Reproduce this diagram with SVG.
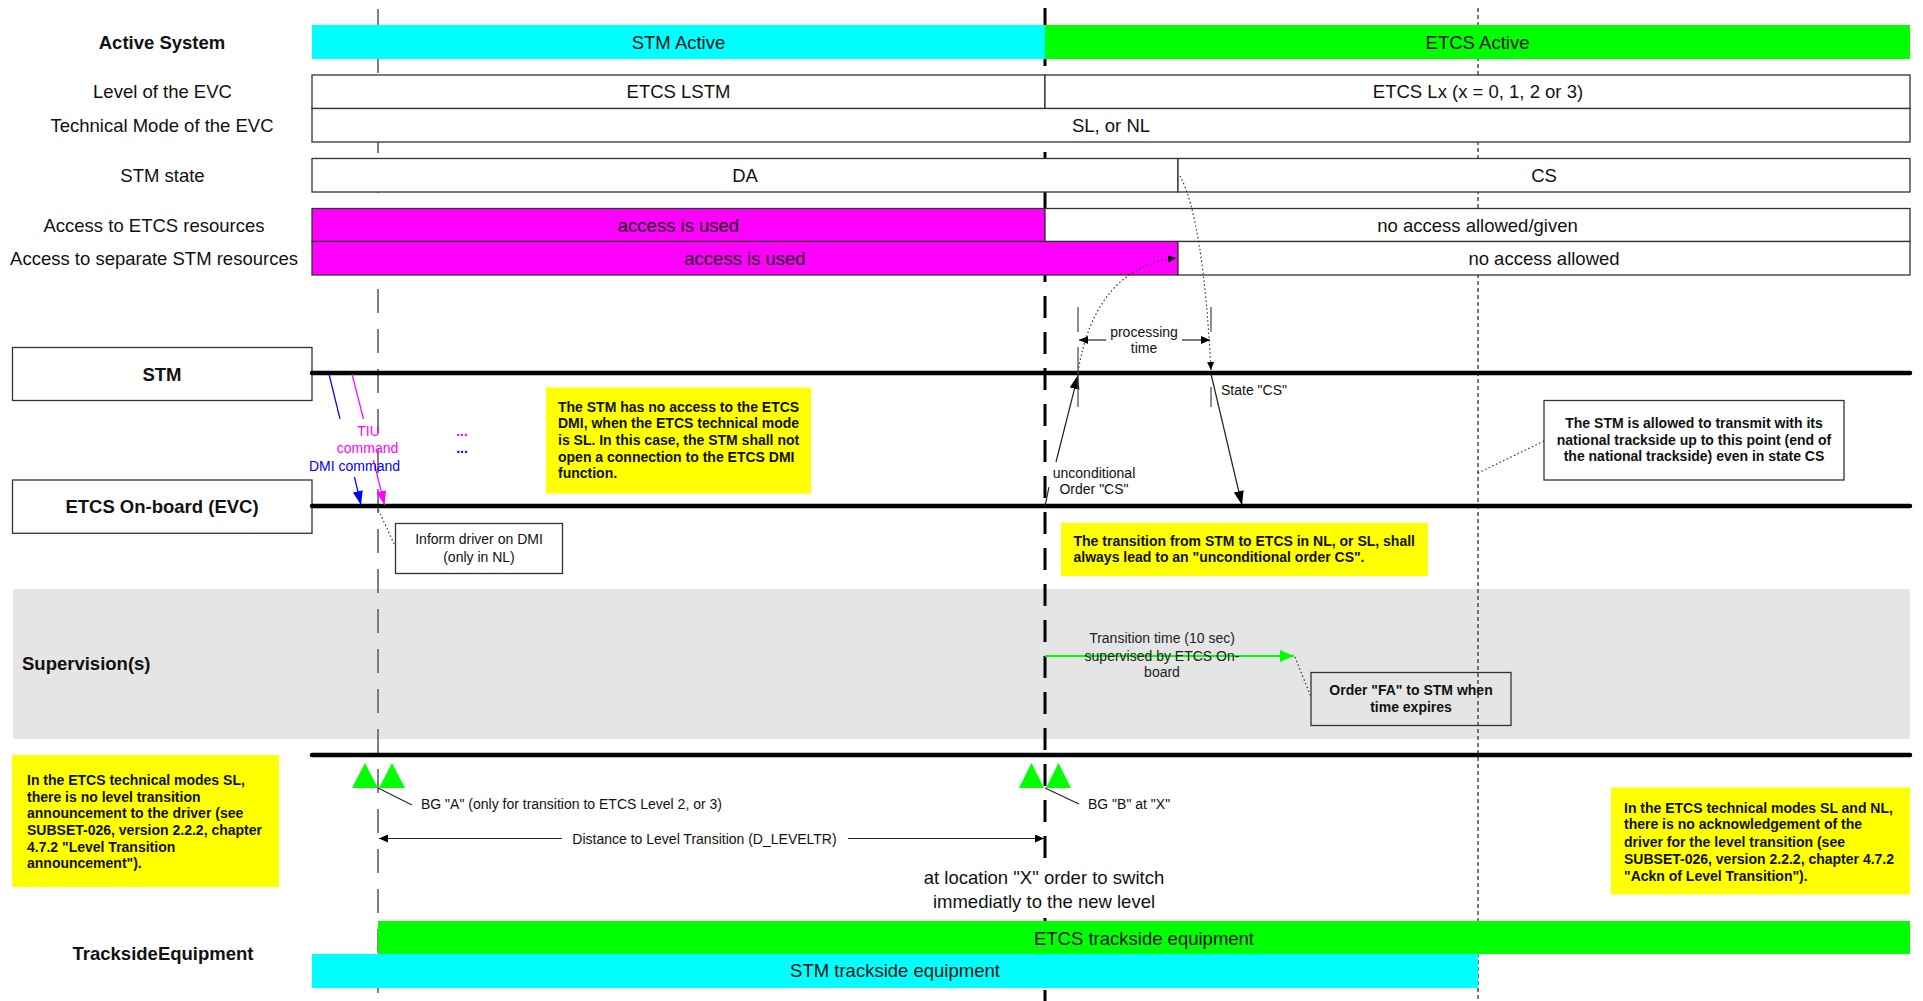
<svg xmlns="http://www.w3.org/2000/svg" width="1923" height="1001" viewBox="0 0 1923 1001">
  <style>
    text { font-family: "Liberation Sans", Arial, sans-serif; fill: #111; }
    .lbl { font-size: 18.5px; }
    .b { font-weight: bold; }
    .sm { font-size: 14px; }
    .note { font-size: 14px; font-weight: bold; }
    .row { fill: #fff; stroke: #333; stroke-width: 1.3; }
    .life { stroke: #000; stroke-width: 4.5; stroke-linecap: round; fill: none; }
    .yel { fill: #ffff00; }
    .box { fill: #fff; stroke: #333; stroke-width: 1.3; }
    .thin { stroke: #222; stroke-width: 1.2; fill: none; }
    .dot { stroke: #333; stroke-width: 1.2; stroke-dasharray: 1.5 2.5; fill: none; }
    .tick { stroke: #444; stroke-width: 1.2; }
    .switch { stroke: #000; stroke-width: 3; stroke-dasharray: 22 14; }
  </style>
  <defs>
    <marker id="ah" markerUnits="userSpaceOnUse" markerWidth="15" markerHeight="11" refX="14" refY="5" orient="auto">
      <path d="M0,0 L14,5 L0,10 z" fill="#000"/>
    </marker>
    <marker id="ahs" markerUnits="userSpaceOnUse" markerWidth="10" markerHeight="9" refX="9" refY="4" orient="auto">
      <path d="M0,0 L9,4 L0,8 z" fill="#000"/>
    </marker>
    <marker id="ahd" markerUnits="userSpaceOnUse" markerWidth="9" markerHeight="8" refX="8" refY="3.5" orient="auto">
      <path d="M0,0 L8,3.5 L0,7 z" fill="#000"/>
    </marker>
    <marker id="ahb" markerUnits="userSpaceOnUse" markerWidth="15" markerHeight="11" refX="14" refY="5" orient="auto">
      <path d="M0,0 L14,5 L0,10 z" fill="#0000ff"/>
    </marker>
    <marker id="ahm" markerUnits="userSpaceOnUse" markerWidth="15" markerHeight="11" refX="14" refY="5" orient="auto">
      <path d="M0,0 L14,5 L0,10 z" fill="#ff00ff"/>
    </marker>
    <marker id="ahg" markerUnits="userSpaceOnUse" markerWidth="15" markerHeight="13" refX="14" refY="6" orient="auto">
      <path d="M0,0 L14,6 L0,12 z" fill="#00ff00"/>
    </marker>
  </defs>

  <!-- supervision band -->
  <rect id="supervision-band" x="13" y="589" width="1897" height="150" fill="#e5e5e5"/>

  <!-- vertical time markers -->
  <g id="time-markers">
    <line x1="378" y1="9" x2="378" y2="1001" stroke="#555" stroke-width="1.5" stroke-dasharray="24 16"/>
    <line class="switch" x1="1045" y1="8" x2="1045" y2="866"/>
    <line class="switch" x1="1045" y1="918" x2="1045" y2="1001"/>
    <line x1="1478" y1="8" x2="1478" y2="1001" stroke="#222" stroke-width="1.2" stroke-dasharray="4 3"/>
  </g>

  <!-- active system bars -->
  <g id="active-system">
    <rect x="312" y="25" width="733" height="34" fill="#00ffff"/>
    <rect x="1045" y="25" width="865" height="34" fill="#00ff00"/>
    <text class="lbl" x="678.5" y="48.5" text-anchor="middle">STM Active</text>
    <text class="lbl" x="1477.5" y="48.5" text-anchor="middle">ETCS Active</text>
  </g>

  <!-- state rows -->
  <g id="rows">
    <rect class="row" x="312" y="75" width="733" height="33.5"/>
    <rect class="row" x="1045" y="75" width="865" height="33.5"/>
    <rect class="row" x="312" y="108.5" width="1598" height="33.5"/>
    <rect class="row" x="312" y="158.5" width="866" height="33.5"/>
    <rect class="row" x="1178" y="158.5" width="732" height="33.5"/>
    <rect x="312" y="208.5" width="733" height="33" fill="#ff00ff" stroke="#333" stroke-width="1.3"/>
    <rect class="row" x="1045" y="208.5" width="865" height="33"/>
    <rect x="312" y="241.5" width="866" height="33.5" fill="#ff00ff" stroke="#333" stroke-width="1.3"/>
    <rect class="row" x="1178" y="241.5" width="732" height="33.5"/>
    <text class="lbl" x="678.5" y="98" text-anchor="middle">ETCS LSTM</text>
    <text class="lbl" x="1478" y="98" text-anchor="middle">ETCS Lx (x = 0, 1, 2 or 3)</text>
    <text class="lbl" x="1111" y="131.5" text-anchor="middle">SL, or NL</text>
    <text class="lbl" x="745" y="181.5" text-anchor="middle">DA</text>
    <text class="lbl" x="1544" y="181.5" text-anchor="middle">CS</text>
    <text class="lbl" x="678.5" y="231.5" text-anchor="middle">access is used</text>
    <text class="lbl" x="1477.5" y="231.5" text-anchor="middle">no access allowed/given</text>
    <text class="lbl" x="745" y="264.5" text-anchor="middle">access is used</text>
    <text class="lbl" x="1544" y="264.5" text-anchor="middle">no access allowed</text>
  </g>

  <!-- row labels -->
  <g id="row-labels">
    <text class="lbl b" x="162" y="48.5" text-anchor="middle">Active System</text>
    <text class="lbl" x="162.5" y="98" text-anchor="middle">Level of the EVC</text>
    <text class="lbl" x="162" y="131.5" text-anchor="middle">Technical Mode of the EVC</text>
    <text class="lbl" x="162.5" y="181.5" text-anchor="middle">STM state</text>
    <text class="lbl" x="154" y="231.5" text-anchor="middle">Access to ETCS resources</text>
    <text class="lbl" x="154" y="264.5" text-anchor="middle">Access to separate STM resources</text>
    <text class="lbl b" x="22" y="670" >Supervision(s)</text>
    <text class="lbl b" x="163" y="960" text-anchor="middle">TracksideEquipment</text>
  </g>

  <!-- actors -->
  <g id="stm">
    <rect class="box" x="12.5" y="347.5" width="299.5" height="53"/>
    <text class="lbl b" x="162" y="380.5" text-anchor="middle">STM</text>
  </g>
  <g id="evc">
    <rect class="box" x="12.5" y="480" width="299.5" height="53.3"/>
    <text class="lbl b" x="162" y="513" text-anchor="middle">ETCS On-board (EVC)</text>
  </g>

  <!-- lifelines -->
  <g id="lifelines">
    <line class="life" x1="312" y1="373" x2="1910" y2="373"/>
    <line class="life" x1="312" y1="506" x2="1910" y2="506"/>
    <line class="life" x1="312" y1="755" x2="1910" y2="755"/>
  </g>

  <!-- notes -->
  <g id="note-stm-dmi">
    <rect class="yel" x="546" y="387.5" width="265" height="106"/>
    <text class="note" x="558" y="411.5">The STM has no access to the ETCS</text>
    <text class="note" x="558" y="428">DMI, when the ETCS technical mode</text>
    <text class="note" x="558" y="444.5">is SL. In this case, the STM shall not</text>
    <text class="note" x="558" y="461.5">open a connection to the ETCS DMI</text>
    <text class="note" x="558" y="478">function.</text>
  </g>
  <g id="note-transition">
    <rect class="yel" x="1061" y="523" width="367" height="53"/>
    <text class="note" x="1073.5" y="545.5">The transition from STM to ETCS in NL, or SL, shall</text>
    <text class="note" x="1073.5" y="561.5">always lead to an "unconditional order CS".</text>
  </g>
  <g id="note-announcement">
    <rect class="yel" x="12" y="755" width="267" height="132"/>
    <text class="note" x="27" y="785">In the ETCS technical modes SL,</text>
    <text class="note" x="27" y="801.5">there is no level transition</text>
    <text class="note" x="27" y="818">announcement to the driver (see</text>
    <text class="note" x="27" y="835">SUBSET-026, version 2.2.2, chapter</text>
    <text class="note" x="27" y="851.5">4.7.2 "Level Transition</text>
    <text class="note" x="27" y="868">announcement").</text>
  </g>
  <g id="note-ackn">
    <rect class="yel" x="1611" y="787.5" width="299" height="107"/>
    <text class="note" x="1624" y="812.5">In the ETCS technical modes SL and NL,</text>
    <text class="note" x="1624" y="829">there is no acknowledgement of the</text>
    <text class="note" x="1624" y="846.5">driver for the level transition (see</text>
    <text class="note" x="1624" y="864">SUBSET-026, version 2.2.2, chapter 4.7.2</text>
    <text class="note" x="1624" y="880.5">"Ackn of Level Transition").</text>
  </g>
  <g id="note-inform-driver">
    <rect class="box" x="395.5" y="523.5" width="167" height="50"/>
    <text class="sm" x="479" y="544" text-anchor="middle">Inform driver on DMI</text>
    <text class="sm" x="479" y="561.5" text-anchor="middle">(only in NL)</text>
  </g>
  <g id="note-national-trackside">
    <rect class="box" x="1544" y="400.5" width="300" height="79.5"/>
    <text class="note" x="1694" y="428" text-anchor="middle">The STM is allowed to transmit with its</text>
    <text class="note" x="1694" y="445" text-anchor="middle">national trackside up to this point (end of</text>
    <text class="note" x="1694" y="460.5" text-anchor="middle">the national trackside) even in state CS</text>
  </g>
  <g id="note-order-fa">
    <rect x="1311" y="672.5" width="200" height="53" fill="none" stroke="#333" stroke-width="1.3"/>
    <text class="note" x="1411" y="695" text-anchor="middle">Order "FA" to STM when</text>
    <text class="note" x="1411" y="712" text-anchor="middle">time expires</text>
  </g>

  <!-- balise groups -->
  <g id="balise-a">
    <path d="M352,788 L365,763 L378,788 z M379,788 L392,763 L405,788 z" fill="#00ff00"/>
    <text class="sm" x="421" y="809">BG "A" (only for transition to ETCS Level 2, or 3)</text>
  </g>
  <g id="balise-b">
    <path d="M1019,788 L1031.5,763 L1044,788 z M1046,788 L1058.5,763 L1071,788 z" fill="#00ff00"/>
    <text class="sm" x="1088" y="809">BG "B" at "X"</text>
  </g>

  <!-- trackside equipment -->
  <g id="trackside">
    <rect x="378" y="921" width="1532" height="33" fill="#00ff00"/>
    <rect x="312" y="954" width="1166" height="34" fill="#00ffff"/>
    <text class="lbl" x="1144" y="944.5" text-anchor="middle">ETCS trackside equipment</text>
    <text class="lbl" x="895" y="976.5" text-anchor="middle">STM trackside equipment</text>
  </g>

  <!-- messages and annotations -->
  <g id="connectors">
    <!-- DMI / TIU commands -->
    <line x1="329" y1="374" x2="340" y2="419" stroke="#0000ff" stroke-width="1.2"/>
    <line x1="354.5" y1="477" x2="361" y2="505" stroke="#0000ff" stroke-width="1.2" marker-end="url(#ahb)"/>
    <line x1="352" y1="374" x2="363.5" y2="419" stroke="#ff00ff" stroke-width="1.2"/>
    <line x1="373.5" y1="460" x2="384.5" y2="505" stroke="#ff00ff" stroke-width="1.2" marker-end="url(#ahm)"/>

    <!-- unconditional order CS -->
    <line class="thin" x1="1045" y1="506" x2="1049" y2="487"/>
    <line class="thin" x1="1056" y1="462" x2="1078" y2="375" marker-end="url(#ah)"/>
    <!-- state CS -->
    <line class="thin" x1="1211" y1="374" x2="1242" y2="505" marker-end="url(#ah)"/>

    <!-- processing time -->
    <line class="tick" x1="1078" y1="307" x2="1078" y2="332"/>
    <line class="tick" x1="1078" y1="347" x2="1078" y2="407"/>
    <line class="tick" x1="1211" y1="307" x2="1211" y2="332"/>
    <line class="tick" x1="1211" y1="387" x2="1211" y2="407"/>
    <line class="thin" x1="1106" y1="340" x2="1079" y2="340" marker-end="url(#ahs)"/>
    <line class="thin" x1="1182" y1="340" x2="1210" y2="340" marker-end="url(#ahs)"/>

    <!-- dotted causal links -->
    <path class="dot" d="M1078,372 Q1095,268 1176,258" marker-end="url(#ahd)"/>
    <path class="dot" d="M1180,176 Q1203,218 1211,370" marker-end="url(#ahd)"/>

    <!-- dotted callout leaders -->
    <line class="dot" x1="378.5" y1="510" x2="395" y2="546"/>
    <line class="dot" x1="1544" y1="441" x2="1478" y2="473"/>
    <line class="dot" x1="1295" y1="657" x2="1311" y2="697"/>

    <!-- balise leaders -->
    <line class="thin" x1="378" y1="788" x2="412" y2="805"/>
    <line class="thin" x1="1045" y1="788" x2="1079" y2="804"/>

    <!-- transition time supervision -->
    <line x1="1045" y1="656" x2="1294" y2="656" stroke="#00ff00" stroke-width="2" marker-end="url(#ahg)"/>

    <!-- distance to level transition -->
    <line class="thin" x1="562" y1="838.5" x2="379" y2="838.5" marker-end="url(#ahs)"/>
    <line class="thin" x1="848" y1="838.5" x2="1044" y2="838.5" marker-end="url(#ahs)"/>
  </g>

  <!-- message labels -->
  <g id="message-labels">
    <text class="sm" x="368.5" y="436" text-anchor="middle" style="fill:#ff00ff">TIU</text>
    <text class="sm" x="367.5" y="453" text-anchor="middle" style="fill:#ff00ff">command</text>
    <text class="sm" x="354.5" y="471" text-anchor="middle" style="fill:#0000ff">DMI command</text>
    <text class="sm b" x="462" y="436" text-anchor="middle" style="fill:#ff00ff">...</text>
    <text class="sm b" x="462" y="453" text-anchor="middle" style="fill:#0000ff">...</text>
    <text class="sm" x="1094" y="478" text-anchor="middle">unconditional</text>
    <text class="sm" x="1094" y="494" text-anchor="middle">Order "CS"</text>
    <text class="sm" x="1221" y="395">State "CS"</text>
    <text class="sm" x="1144" y="337" text-anchor="middle">processing</text>
    <text class="sm" x="1144" y="353" text-anchor="middle">time</text>
    <text class="sm" x="1162" y="643" text-anchor="middle" style="fill:#222">Transition time (10 sec)</text>
    <text class="sm" x="1162" y="661" text-anchor="middle" style="fill:#222">supervised by ETCS On-</text>
    <text class="sm" x="1162" y="677" text-anchor="middle" style="fill:#222">board</text>
    <text class="sm" x="704.5" y="843.5" text-anchor="middle">Distance to Level Transition (D_LEVELTR)</text>
    <text class="lbl" x="1044" y="884" text-anchor="middle">at location "X" order to switch</text>
    <text class="lbl" x="1044" y="907.5" text-anchor="middle">immediatly to the new level</text>
  </g>
</svg>
